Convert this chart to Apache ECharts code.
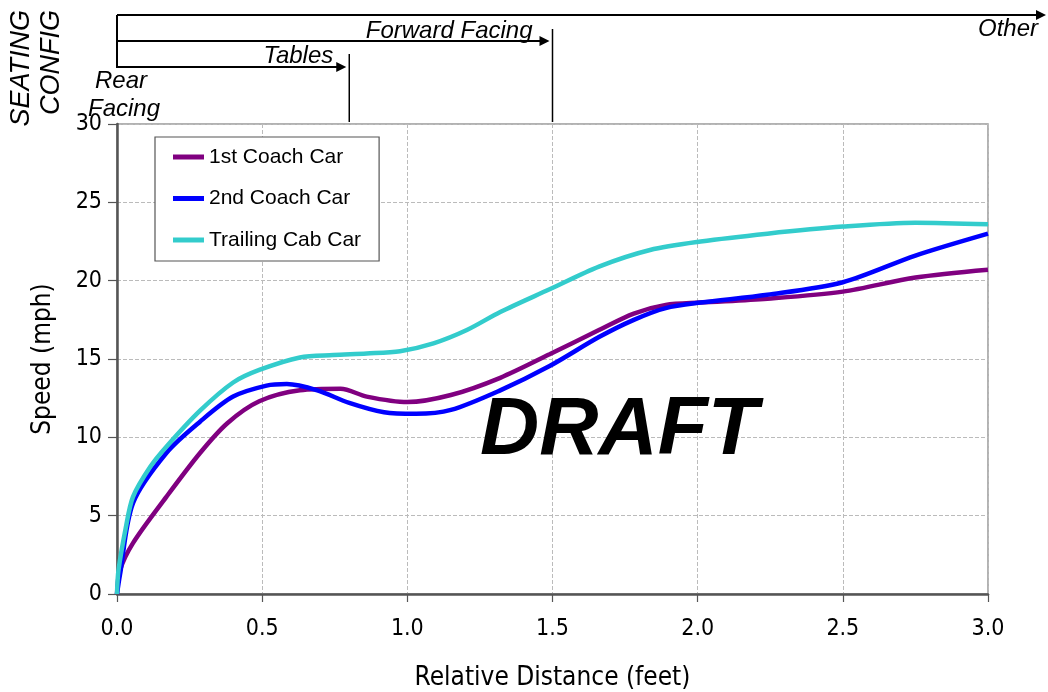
<!DOCTYPE html>
<html>
<head>
<meta charset="utf-8">
<script src="https://cdn.jsdelivr.net/npm/echarts@6/dist/echarts.min.js"></script>
<style>
html,body{margin:0;padding:0;background:#fff;}
#chart{width:1048px;height:692px;}
</style>
</head>
<body>
<div id="chart"></div>
<script>
// ---- data ----
const seriesNames = ['1st Coach Car', '2nd Coach Car', 'Trailing Cab Car'];
const coach1X = [0, 0.01, 0.055, 0.17, 0.286, 0.38, 0.49, 0.63, 0.77, 0.86, 1.0, 1.15, 1.32, 1.49, 1.66, 1.78, 1.89, 2.01, 2.24, 2.5, 2.75, 3.0];
const coach1Y = [0, 1.5, 3.25, 6.2, 9.0, 10.9, 12.3, 13.0, 13.1, 12.6, 12.25, 12.7, 13.8, 15.3, 16.85, 17.9, 18.45, 18.6, 18.85, 19.3, 20.2, 20.7];
const coach2X = [0, 0.01, 0.055, 0.17, 0.286, 0.40, 0.515, 0.585, 0.69, 0.80, 0.92, 1.03, 1.15, 1.32, 1.49, 1.66, 1.78, 1.89, 2.01, 2.24, 2.5, 2.75, 3.0];
const coach2Y = [0, 1.2, 5.8, 9.0, 11.0, 12.6, 13.3, 13.4, 13.0, 12.2, 11.6, 11.5, 11.75, 13.0, 14.55, 16.4, 17.5, 18.25, 18.6, 19.1, 19.9, 21.6, 23.0];
const cabX = [0, 0.005, 0.03, 0.055, 0.114, 0.17, 0.286, 0.40, 0.49, 0.63, 0.745, 0.86, 0.975, 1.09, 1.205, 1.32, 1.49, 1.66, 1.836, 2.01, 2.24, 2.5, 2.75, 3.0];
const cabY = [0, 1.5, 4.2, 6.2, 8.1, 9.4, 11.7, 13.5, 14.3, 15.1, 15.25, 15.35, 15.5, 16.0, 16.85, 18.0, 19.45, 20.9, 21.96, 22.5, 23.0, 23.45, 23.7, 23.6];
const seatingZoneEnds = [0.8, 1.5];   // Tables ends, Forward Facing ends
const seatingLabels = ['Rear', 'Facing', 'Tables', 'Forward Facing', 'Other'];

const zip = (xs, ys) => xs.map((x, i) => [x, ys[i]]);
const colors = ['#800080', '#0000FF', '#33CCCC'];
const axisFont = '"DejaVu Sans Condensed", "DejaVu Sans", sans-serif';

const chart = echarts.init(document.getElementById('chart'));
const mkSeries = (name, data, color) => ({
  name, type: 'line', data, smooth: 0.3, showSymbol: false, symbol: 'none',
  lineStyle: { color, width: 4.5 }, itemStyle: { color }
});

chart.setOption({
  animation: false,
  backgroundColor: '#fff',
  grid: { left: 117, right: 60, top: 124, bottom: 98, show: true, borderColor: '#999', borderWidth: 1.5,
          containLabel: false, outerBoundsMode: 'none' },
  legend: {
    orient: 'vertical', left: 155, top: 137,
    padding: [9, 18, 10, 18], itemGap: 19.5,
    itemWidth: 31, itemHeight: 5, icon: 'rect',
    borderColor: '#555', borderWidth: 1.2, backgroundColor: '#fff',
    textStyle: { fontFamily: '"Liberation Sans", Arial, sans-serif', fontSize: 21, lineHeight: 22, color: '#000' },
    data: seriesNames
  },
  xAxis: {
    type: 'value', min: 0, max: 3, interval: 0.5,
    name: 'Relative Distance (feet)', nameLocation: 'middle', nameGap: 71,
    nameTextStyle: { fontFamily: axisFont, fontSize: 26, color: '#000' },
    axisLine: { show: true, lineStyle: { color: '#555', width: 2.5 } },
    axisTick: { show: true, inside: false, length: 8, lineStyle: { color: '#555', width: 1.2 } },
    axisLabel: { margin: 24, fontFamily: axisFont, fontSize: 23, color: '#000', formatter: v => v.toFixed(1) },
    splitLine: { show: true, lineStyle: { color: '#bbb', type: 'dashed', width: 1 } }
  },
  yAxis: {
    type: 'value', min: 0, max: 30, interval: 5,
    name: 'Speed (mph)', nameLocation: 'middle', nameGap: 61,
    nameTextStyle: { fontFamily: axisFont, fontSize: 26, color: '#000' },
    axisLine: { show: true, lineStyle: { color: '#555', width: 2.5 } },
    axisTick: { show: true, inside: false, length: 9, lineStyle: { color: '#555', width: 1.2 } },
    axisLabel: { margin: 15, fontFamily: axisFont, fontSize: 23, color: '#000' },
    splitLine: { show: true, lineStyle: { color: '#bbb', type: 'dashed', width: 1 } }
  },
  series: [
    mkSeries(seriesNames[0], zip(coach1X, coach1Y), colors[0]),
    mkSeries(seriesNames[1], zip(coach2X, coach2Y), colors[1]),
    mkSeries(seriesNames[2], zip(cabX, cabY), colors[2])
  ]
});

// ---- annotations (seating configuration) ----
const px = x => chart.convertToPixel({ gridIndex: 0 }, [x, 0])[0];
const x0 = px(0), xTab = px(seatingZoneEnds[0]), xFwd = px(seatingZoneEnds[1]);
const plotTop = 124;
const annFont = 'italic 24px "Liberation Sans", Arial, sans-serif';
const lineStyle = { stroke: '#000', lineWidth: 2 };
const arrow = (x1, y, x2) => [
  { type: 'line', shape: { x1, y1: y, x2: x2 - 8, y2: y }, style: lineStyle, z: 100 },
  { type: 'polygon', shape: { points: [[x2 - 10, y - 5], [x2, y], [x2 - 10, y + 5]] }, style: { fill: '#000' }, z: 100 }
];
const txt = (text, x, y, extra) => ({ type: 'text', x, y, z: 100,
  style: Object.assign({ text, font: annFont, fill: '#000', align: 'left', verticalAlign: 'middle' }, extra || {}) });

const graphics = [].concat(
  [{ type: 'line', shape: { x1: x0, y1: 15, x2: x0, y2: 68 }, style: lineStyle, z: 100 }],
  arrow(x0, 15, 1046),
  arrow(x0, 41, xFwd - 3),
  arrow(x0, 67, xTab - 3),
  [
    { type: 'line', shape: { x1: xTab, y1: 54, x2: xTab, y2: plotTop - 2 }, style: { stroke: '#000', lineWidth: 1.5 }, z: 100 },
    { type: 'line', shape: { x1: xFwd, y1: 29, x2: xFwd, y2: plotTop - 2 }, style: { stroke: '#000', lineWidth: 1.5 }, z: 100 },
    txt(seatingLabels[0], 95, 81),
    txt(seatingLabels[1], 88, 109),
    txt(seatingLabels[2], xTab - 16, 56, { align: 'right' }),
    txt(seatingLabels[3], xFwd - 20, 31, { align: 'right' }),
    txt(seatingLabels[4], 1038, 29, { align: 'right' }),
    { type: 'text', x: 21, y: 10, rotation: Math.PI / 2, z: 100,
      style: { text: 'SEATING', font: 'italic 27px "Liberation Sans", Arial, sans-serif', fill: '#000', align: 'right', verticalAlign: 'middle' } },
    { type: 'text', x: 51, y: 10, rotation: Math.PI / 2, z: 100,
      style: { text: 'CONFIG', font: 'italic 27px "Liberation Sans", Arial, sans-serif', fill: '#000', align: 'right', verticalAlign: 'middle' } },
    { type: 'text', x: 480, y: 431, z: 100,
      style: { text: 'DRAFT', font: 'italic bold 82px "Liberation Sans", Arial, sans-serif', fill: '#000', align: 'left', verticalAlign: 'middle' } }
  ]
);
chart.setOption({ graphic: graphics });
</script>
</body>
</html>
